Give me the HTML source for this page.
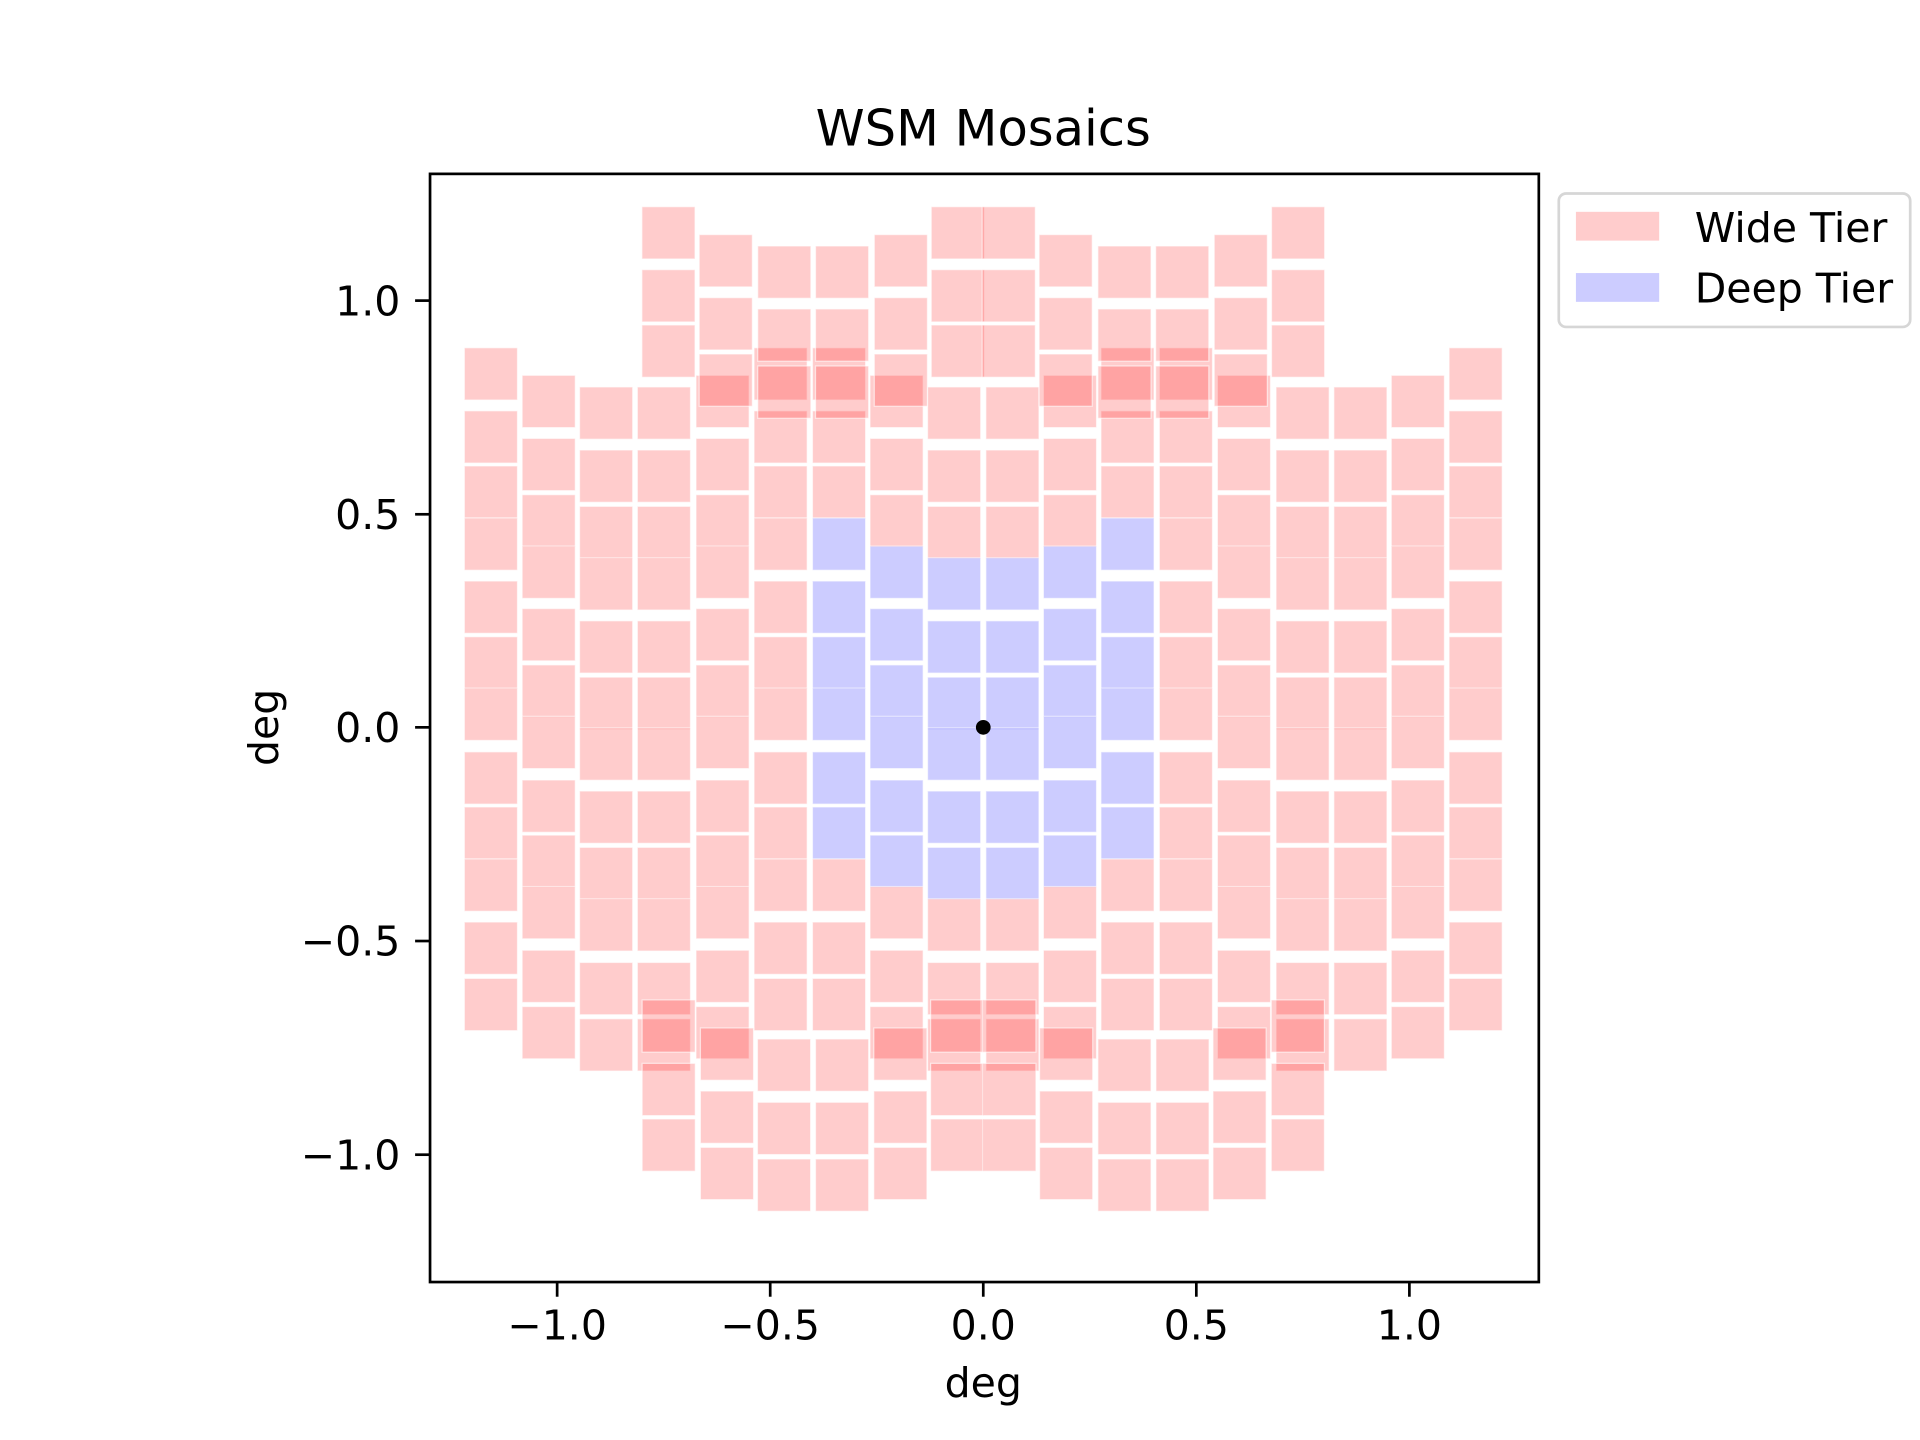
<!DOCTYPE html>
<html><head><meta charset="utf-8"><style>
html,body{margin:0;padding:0;background:#fff;}
svg{display:block;}
text{font-family:"DejaVu Sans","Liberation Sans",sans-serif;fill:#000;}
</style></head><body>
<svg id="s" width="1920" height="1440" viewBox="0 0 1568 1176" xmlns="http://www.w3.org/2000/svg">
<rect x="0" y="0" width="1568" height="1176" fill="#fff"/>
<g id="tiles"></g>
<circle cx="803" cy="594" r="6" fill="#000"/>
<rect x="351.2" y="142" width="905.5" height="905" fill="none" stroke="#000" stroke-width="2.2"/>
<g stroke="#000" stroke-width="2.2">
<line x1="455" y1="1047" x2="455" y2="1059"/>
<line x1="629" y1="1047" x2="629" y2="1059"/>
<line x1="803" y1="1047" x2="803" y2="1059"/>
<line x1="977" y1="1047" x2="977" y2="1059"/>
<line x1="1151" y1="1047" x2="1151" y2="1059"/>
<line x1="339" y1="245.5" x2="351" y2="245.5"/>
<line x1="339" y1="420" x2="351" y2="420"/>
<line x1="339" y1="594" x2="351" y2="594"/>
<line x1="339" y1="768.5" x2="351" y2="768.5"/>
<line x1="339" y1="943" x2="351" y2="943"/>
</g>
<g font-size="33.5" text-anchor="middle">
<text x="455" y="1094">−1.0</text>
<text x="629" y="1094">−0.5</text>
<text x="803" y="1094">0.0</text>
<text x="977" y="1094">0.5</text>
<text x="1151" y="1094">1.0</text>
</g>
<g font-size="33.5" text-anchor="end">
<text x="327" y="257.5">1.0</text>
<text x="327" y="432">0.5</text>
<text x="327" y="606">0.0</text>
<text x="327" y="780.5">−0.5</text>
<text x="327" y="955">−1.0</text>
</g>
<text x="803" y="1141" font-size="33.5" text-anchor="middle">deg</text>
<text transform="translate(227,594) rotate(-90)" font-size="33.5" text-anchor="middle">deg</text>
<text x="803" y="119" font-size="40.5" text-anchor="middle">WSM Mosaics</text>
<rect x="1273" y="158" width="287" height="109" rx="6" fill="#fff" stroke="#d6d6d6" stroke-width="2.2"/>
<rect x="1287" y="173" width="68" height="23.5" fill="#ffcccc"/>
<rect x="1287" y="223" width="68" height="23.5" fill="#ccccff"/>
<text x="1384" y="197.5" font-size="33.5">Wide Tier</text>
<text x="1384" y="247" font-size="33.5">Deep Tier</text>
</svg>
<script>
(function(){
var W=43.4,H=42.7,C=803;
var A=[284,335.5,380.5,423,474.5,520,562,614,659,701.5,753,799];
var B=[306.5,358,404,446,497,543,585,637,682,724,776,822];
var Cc=[316,367.5,413.5,455.5,507,553,594.5,646,692,734,786,832];
var cols=[[379.2,A,0],[426.4,B,0],[473.3,Cc,0],[520.5,Cc,0],[568.4,B,0],[615.8,A,0],[663.5,A,1],[710.5,B,1],[757.5,Cc,1]];
var top=[[524.2,[168.8,220.2,265.4]],[571,[191.6,243.1,289.1]],[618.8,[200.9,252.3,298.9]],[666,[200.9,252.3,298.9]],[714,[191.6,243.1,289.1]],[760.5,[168.8,220.2,265.4]]];
var bot=[[524.4,[816.6,868.4,913.8]],[572,[839.5,891,937]],[618.6,[848.5,900.2,946.5]],[666,[848.5,900.2,946.5]],[713.6,[839.5,891,937]],[760,[816.6,868.4,913.8]]];
var g=document.getElementById('tiles'),ns='http://www.w3.org/2000/svg';
function r(x,y,blue){
 [x,2*C-x-W].forEach(function(xx){
  var e=document.createElementNS(ns,'rect');
  e.setAttribute('x',xx);e.setAttribute('y',y);e.setAttribute('width',W);e.setAttribute('height',H);
  e.setAttribute('fill',blue?'#0000ff':'#ff0000');e.setAttribute('fill-opacity','0.2');
  e.setAttribute('stroke','#ffffff');e.setAttribute('stroke-opacity','0.6');e.setAttribute('stroke-width','1');
  g.appendChild(e);
 });
}
cols.forEach(function(c){c[1].forEach(function(y,i){r(c[0],y,c[2]&&i>=3&&i<=8);});});
top.forEach(function(c){c[1].forEach(function(y){r(c[0],y,false);});});
bot.forEach(function(c){c[1].forEach(function(y){r(c[0],y,false);});});
})();
</script>
</body></html>
